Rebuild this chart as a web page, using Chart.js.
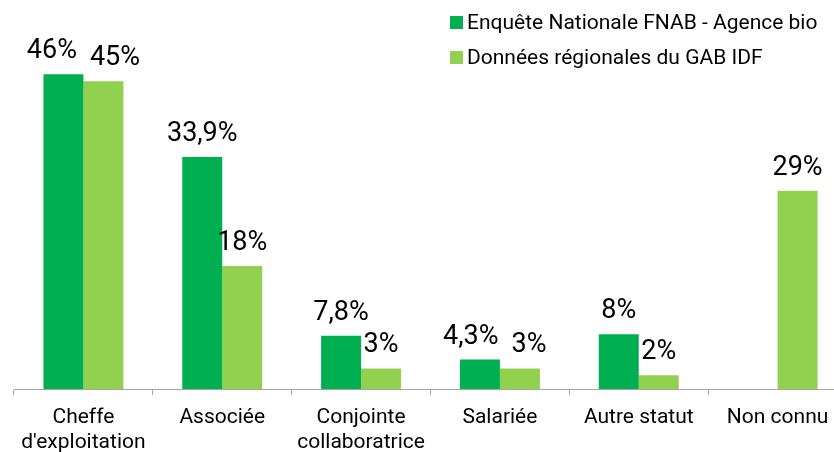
<!DOCTYPE html>
<html>
<head>
<meta charset="utf-8">
<script src="https://cdn.jsdelivr.net/npm/chart.js@4/dist/chart.umd.min.js"></script>
<style>
  html, body { margin: 0; padding: 0; background: #fff; overflow: hidden; width: 834px; height: 452px; }
  #wrap { width: 848px; height: 452px; position: relative; }
</style>
</head>
<body>
<div id="wrap"><canvas id="c" width="848" height="452"></canvas></div>
<script>
const categories = [["Cheffe", "d'exploitation"], "Associée", ["Conjointe", "collaboratrice"], "Salariée", "Autre statut", "Non connu"];
const seriesNames = ["Enquête Nationale FNAB - Agence bio", "Données régionales du GAB IDF"];
const nationalValues = [46, 33.9, 7.8, 4.3, 8, null];
const regionalValues = [45, 18, 3, 3, 2, 29];
const seriesColors = ["#00B050", "#92D050"];

const FONT = "Roboto, 'Noto Sans', sans-serif";

function fmt(v) {
  return String(v).replace('.', ',') + '%';
}

const valueLabels = {
  id: 'valueLabels',
  afterDatasetsDraw(chart) {
    const ctx = chart.ctx;
    ctx.save();
    ctx.font = "27px " + FONT;
    ctx.fillStyle = "#000";
    ctx.textAlign = "center";
    ctx.textBaseline = "alphabetic";
    const n = chart.data.labels.length;
    const GAP = 13, H = 22, OFF = 16;
    for (let i = 0; i < n; i++) {
      const items = [];
      chart.data.datasets.forEach((ds, di) => {
        const v = ds.data[i];
        if (v === null || v === undefined) return;
        const el = chart.getDatasetMeta(di).data[i];
        const text = fmt(v);
        items.push({ text, x: el.x, y: el.y - OFF, w: ctx.measureText(text).width });
      });
      // avoid overlap between neighbouring labels of the same category
      for (let k = 0; k + 1 < items.length; k++) {
        const a = items[k], b = items[k + 1];
        if (Math.abs(a.y - b.y) < H) {
          const over = (a.x + a.w / 2) - (b.x - b.w / 2) + GAP;
          if (over > 0) { a.x -= over / 2; b.x += over / 2; }
        }
      }
      items.forEach(it => ctx.fillText(it.text, it.x, it.y));
    }
    ctx.restore();
  }
};

const customLegend = {
  id: 'customLegend',
  afterDraw(chart) {
    const ctx = chart.ctx;
    ctx.save();
    ctx.font = "21px " + FONT;
    ctx.textAlign = "left";
    ctx.textBaseline = "alphabetic";
    chart.data.datasets.forEach((ds, di) => {
      const base = 29 + di * 35;
      ctx.fillStyle = ds.backgroundColor;
      ctx.fillRect(450, base - 13, 13, 13);
      ctx.fillStyle = "#000";
      ctx.fillText(ds.label, 467, base);
    });
    ctx.restore();
  }
};

new Chart(document.getElementById('c'), {
  type: 'bar',
  data: {
    labels: categories,
    datasets: [
      { label: seriesNames[0], data: nationalValues, backgroundColor: seriesColors[0] },
      { label: seriesNames[1], data: regionalValues, backgroundColor: seriesColors[1] }
    ]
  },
  options: {
    responsive: false,
    animation: false,
    devicePixelRatio: 1,
    layout: { padding: { top: 47, left: 14, right: 1, bottom: 0 } },
    plugins: { legend: { display: false }, tooltip: { enabled: false } },
    datasets: { bar: { categoryPercentage: 0.576, barPercentage: 1.0 } },
    scales: {
      x: {
        grid: { display: true, offset: true, drawOnChartArea: false, tickLength: 6, color: '#A6A6A6', lineWidth: 1 },
        border: { display: true, color: '#A6A6A6', width: 1 },
        ticks: { color: '#000', font: { family: FONT, size: 21, lineHeight: 1.2 }, padding: 10, maxRotation: 0, autoSkip: false },
        afterFit(scale) { scale.height = 63; }
      },
      y: {
        display: false,
        min: 0,
        max: 50
      }
    }
  },
  plugins: [valueLabels, customLegend]
});
</script>
</body>
</html>
